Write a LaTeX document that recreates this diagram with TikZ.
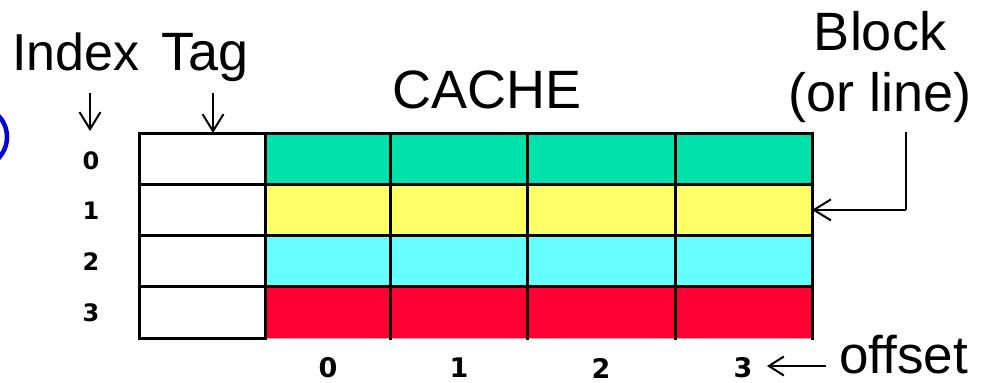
\documentclass[tikz,border=0pt]{standalone}
\usepackage{fontspec}
\setmainfont{Liberation Sans}
\newfontfamily\digitfont{DejaVu Sans}
\usetikzlibrary{arrows.meta}
\definecolor{rowgreen}{RGB}{0,226,170}
\definecolor{rowyellow}{RGB}{255,255,102}
\definecolor{rowcyan}{RGB}{102,255,255}
\definecolor{rowred}{RGB}{255,0,51}
\definecolor{ringblue}{RGB}{0,0,215}
\begin{document}
\begin{tikzpicture}[x=1pt,y=-1pt,
  biglabel/.style={font=\fontsize{54}{54}\selectfont, inner sep=0pt},
  idxnum/.style={font=\digitfont\bfseries\fontsize{24}{24}\selectfont, inner sep=0pt},
  offnum/.style={font=\digitfont\bfseries\fontsize{27}{27}\selectfont, inner sep=0pt},
  pointer/.style={line width=2pt, -{Straight Barb[length=17pt,width=21pt,line width=2pt]}},
  gridline/.style={line width=3pt, line cap=rect}]
\useasboundingbox (0,0) rectangle (986,383);

% blue ring, cut by the left border
\begin{scope}
  \clip (0,0) rectangle (986,383);
  \draw[ringblue, line width=4.5pt] (-23.6,137) circle (30.6);
\end{scope}

% coloured data rows
\foreach \c [count=\i] in {rowgreen,rowyellow,rowcyan,rowred}
  \fill[\c] (265,{133+51.25*(\i-1)}) rectangle (812,{133+51.25*\i});

% faint lower edge of the last data row
\draw[line width=1pt, black!30] (265,338) -- (812,338);

% grid
\draw[gridline] (139,338) -- (139,133) -- (812,133) -- (812,338);
\draw[gridline] (139,338) -- (265,338);
\foreach \y in {184.25,235.5,286.75}
  \draw[gridline] (139,\y) -- (812,\y);
\foreach \x in {265,390,527,675}
  \draw[gridline] (\x,133) -- (\x,338);

% anchor points on the table
\coordinate (tagtop) at (213,133);
\coordinate (rowone) at (812,209.9);
\coordinate (blockdrop) at (906,132);
\coordinate (blockbend) at (906,209.9);

% headings
\node[biglabel, font=\fontsize{52}{52}\selectfont, anchor=base west] (index) at (12,70) {Index};
\node[biglabel, anchor=base west] (tag) at (161,70) {Tag};
\node[biglabel, anchor=base] (cache) at (487,108) {CACHE};
\node[biglabel, anchor=base] (block) at (880,50) {Block};
\node[biglabel, anchor=base] (orline) at (880,111) {(or line)};
\node[biglabel, font=\fontsize{53}{53}\selectfont, anchor=base west] (offset) at (839,373) {offset};

% index numbers
\node[idxnum] (i0) at (91,161) {0};
\node[idxnum] (i1) at (91,211) {1};
\node[idxnum] (i2) at (91,262) {2};
\node[idxnum] (i3) at (91,313) {3};

% offset numbers
\node[offnum] (o0) at (328,368) {0};
\node[offnum] (o1) at (459,368) {1};
\node[offnum] (o2) at (601,368) {2};
\node[offnum] (o3) at (743,368) {3};

% pointers
\coordinate (indexfoot) at (90,93);
\coordinate (indexhead) at (90,131);
\coordinate (tagfoot) at (213,93);
\draw[pointer] (indexfoot) -- (indexhead);
\draw[pointer] (tagfoot) -- (tagtop);
\draw[pointer, -] (blockdrop) -- (blockbend);
\draw[pointer] (blockbend) -- (rowone);
\coordinate (offtail) at (826,366);
\coordinate (offtip) at (767,366);
\draw[pointer, -{Straight Barb[length=15pt,width=19pt,line width=2pt]}] (offtail) -- (offtip);
\end{tikzpicture}
\end{document}
